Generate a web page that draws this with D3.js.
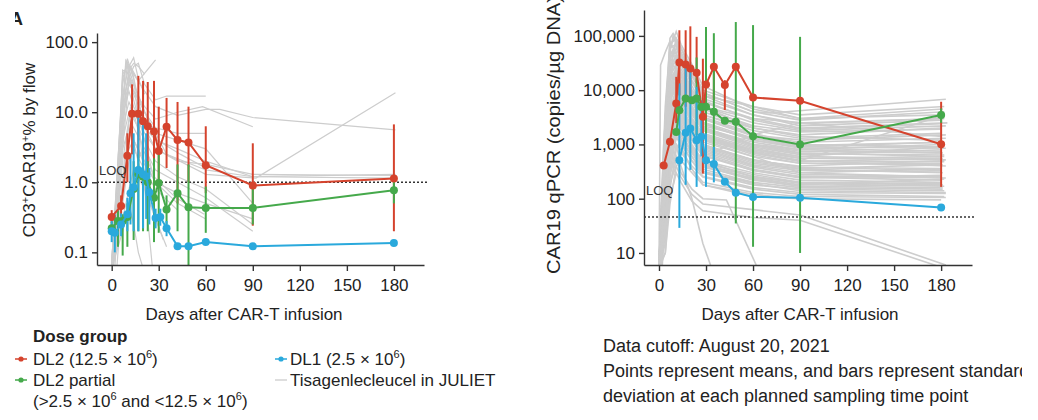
<!DOCTYPE html>
<html>
<head>
<meta charset="utf-8">
<script src="https://cdn.jsdelivr.net/npm/d3@7"></script>
<style>
body { margin: 0; background: #fff; }
svg text { font-family: "Liberation Sans", Arial, Helvetica, sans-serif; fill: #222; }
</style>
</head>
<body>
<script>
// shared ticks
const dayTicks = [0, 30, 60, 90, 120, 150, 180];
const flowTicks = [0.1, 1, 10, 100];
const pcrTicks = [10, 100, 1000, 10000, 100000];
const flowLOQ = 1.0;
const pcrLOQ = 46;

// CD3+CAR19+ % by flow: means and SD bars
const flowDL2Days = [0, 6, 10, 13, 17, 20, 23, 27, 30, 35, 42, 49, 60, 90, 180];
const flowDL2Mean = [0.32, 0.46, 2.4, 9.5, 9.5, 7.4, 6.3, 5.3, 2.8, 6.2, 4.0, 3.7, 1.75, 0.9, 1.13];
const flowDL2Lo   = [0.26, 0.33, 1.0, 2.5, 2.2, 1.6, 1.3, 1.1, 1.0, 1.6, 0.5, 1.0, 0.7, 0.24, 0.2];
const flowDL2Hi   = [0.4, 0.65, 5.0, 25, 33, 28, 27, 28, 12, 16, 14, 12, 6.3, 3.6, 6.7];

const flowPartDays = [0, 4, 7, 10, 14, 17, 20, 23, 27, 30, 35, 42, 49, 60, 90, 180];
const flowPartMean = [0.22, 0.28, 0.28, 0.32, 0.8, 1.3, 1.2, 1.0, 0.6, 0.98, 0.41, 0.7, 0.44, 0.43, 0.43, 0.77];
const flowPartLo   = [0.18, 0.12, 0.09, 0.12, 0.15, 0.2, 0.2, 0.2, 0.14, 0.19, 0.25, 0.2, 0.06, 0.19, 0.25, 0.5];
const flowPartHi   = [0.27, 0.4, 0.35, 0.5, 2, 2.5, 2.5, 2, 2.2, 2.6, 0.65, 1.8, 1.8, 0.87, 0.93, 1.1];

const flowDL1Days = [0, 2, 6, 10, 12, 14, 17, 20, 22, 24, 28, 31, 35, 42, 49, 60, 90, 180];
const flowDL1Mean = [0.2, 0.19, 0.25, 0.35, 0.7, 0.85, 1.5, 1.3, 1.22, 0.72, 0.31, 0.32, 0.22, 0.122, 0.122, 0.14, 0.122, 0.136];
const flowDL1Lo   = [0.14, 0.1, 0.17, 0.2, 0.25, 0.2, 0.2, 0.22, 0.3, 0.25, 0.22, 0.24, 0.17, null, null, null, null, null];
const flowDL1Hi   = [0.28, 0.35, 0.36, 0.6, 2.5, 5, 9, 7, 5, 1.6, 0.42, 0.42, 0.28, null, null, null, null, null];

// CAR19 qPCR copies/ug DNA: means and SD bars
const pcrDL2Days = [3, 7, 11, 13, 17, 20, 24, 28, 30, 35, 42, 49, 60, 90, 180];
const pcrDL2Mean = [410, 1120, 5700, 32400, 29700, 25100, 20900, 3230, 12700, 26900, 12400, 26900, 7330, 6350, 1010];
const pcrDL2Lo   = [null, null, 2470, 8000, 4950, 6550, 13500, 290, 5000, 6550, 4300, null, null, null, 165];
const pcrDL2Hi   = [null, null, 17600, 127000, 127000, 150000, 96000, 38000, 30000, 31000, 15300, null, null, null, 6120];

const pcrPartDays = [11, 13, 17, 21, 24, 27, 30, 35, 42, 49, 60, 90, 180];
const pcrPartMean = [1700, 4280, 7030, 6550, 7030, 4900, 4930, 3980, 2720, 2630, 1420, 1000, 3470];
const pcrPartLo   = [null, null, null, null, 1500, null, 297, 520, null, 35, 13, 10, 2500];
const pcrPartHi   = [null, null, null, null, 40000, null, 146000, 112000, null, 180000, 158000, 96000, 4600];

const pcrDL1Days = [13, 17, 20, 24, 27, 30, 35, 42, 49, 60, 90, 180];
const pcrDL1Mean = [513, 1640, 1970, 1200, 1380, 513, 434, 205, 129, 108, 104, 69];
const pcrDL1Lo   = [29, 180, 340, 165, 600, 165, 200, null, null, null, null, null];
const pcrDL1Hi   = [13300, 26900, 26900, 11500, 6500, 1600, 900, null, null, null, null, null];

// Tisagenlecleucel in JULIET, individual patients (day, value, day, value, ...)
const flowGrey = [
  [0,0.05, 6,5, 9,55, 13,40, 17,15, 21,6, 28,3, 60,1.3, 92,1.15, 181,19],
  [0,0.07, 7,12, 10,48, 14,35, 21,20, 28,12, 42,9, 60,11, 69,11, 90,8.4, 181,5.6],
  [1,0.06, 7,3, 11,30, 14,45, 17,50, 21,25, 28,15, 35,17, 60,17],
  [0,0.08, 4,1, 7,40, 11,35, 14,20, 21,12, 28,8, 42,10, 58,12, 90,6.2],
  [0,0.07, 7,25, 10,58, 14,30, 18,5, 22,0.5, 26,0.06],
  [2,0.06, 9,20, 12,45, 17,28, 28,56],
  [0,0.05, 7,6, 11,14, 14,10, 21,5, 28,3, 42,2, 60,1.8, 90,1.3, 181,1.25],
  [0,0.06, 7,9, 11,20, 14,12, 21,6, 28,4, 42,3, 60,2, 90,1.2, 181,1.15],
  [0,0.05, 7,4, 11,10, 14,8, 21,4, 28,2, 42,1.2, 60,0.8, 90,0.25],
  [1,0.07, 7,2, 11,8, 14,6, 21,3, 28,1.5, 42,1, 60,0.6, 90,0.2],
  [0,0.06, 7,15, 11,30, 14,18, 21,8, 28,5, 42,4, 60,3, 90,0.5],
  [0,0.05, 7,1, 11,3, 14,4, 21,2, 28,1, 42,0.5, 60,0.3],
  [0,0.07, 4,0.3, 7,8, 11,25, 14,20, 21,10, 28,6, 42,5, 60,5],
  [0,0.06, 7,0.5, 11,2, 14,3, 21,1.5, 28,0.8, 42,0.4],
  [0,0.05, 7,30, 10,50, 14,25, 21,10, 28,5, 35,2.5, 60,1.5, 90,1.2, 181,1.3],
  [1,0.06, 7,18, 11,45, 14,60, 17,30, 21,18],
  [0,0.08, 7,0.3, 11,0.8, 14,1.5, 21,0.8, 28,0.3, 35,0.12],
  [0,0.05, 7,3, 11,6, 14,4, 21,1.8, 28,1, 42,0.7, 60,0.5, 90,0.3],
  [0,0.06, 7,10, 11,40, 14,50, 17,45, 21,35],
  [0,0.07, 4,2, 7,35, 10,45, 14,15, 21,4, 28,0.9],
  [0,0.06, 7,0.2, 11,0.5, 14,0.25, 17,0.1, 21,0.05],
  [3,0.05, 8,1.5, 12,12, 15,8, 20,3, 27,1.2, 41,0.6, 59,0.35],
  [0,0.06, 5,0.8, 8,14, 12,30, 16,20, 22,9, 29,4, 44,2.5, 60,1.6],
  [0,0.05, 4,0.15, 8,2, 12,5, 15,3, 20,1, 26,0.4, 33,0.15]
];

const pcrGrey = [
  [0,8, 4,300, 7,20000, 11,90000, 14,60000, 21,20000, 28,9000, 60,4000, 71,3800, 183,6800],
  [0,6, 3,1000, 7,50000, 9,100000, 14,40000, 21,15000, 28,8000, 60,5000, 90,3000, 181,4500],
  [0,5, 1,29000, 4,50000, 7,80000, 14,30000, 21,10000, 28,5000, 60,3000, 92,2500, 182,3000],
  [0,5, 4,200, 7,5000, 11,30000, 14,20000, 21,8000, 28,4000, 60,2000, 90,1500, 180,2000],
  [1,5, 4,50, 8,2000, 11,10000, 15,15000, 21,6000, 27,3000, 58,1500, 91,1200, 183,1500],
  [0,6, 4,500, 7,10000, 9,20000, 14,8000, 21,3000, 28,1500, 60,800, 90,600, 180,900],
  [0,5, 3,100, 7,3000, 11,8000, 14,5000, 20,2000, 28,1000, 61,500, 89,400, 182,500],
  [0,7, 4,2000, 7,40000, 11,50000, 14,25000, 21,10000, 28,6000, 60,3000, 90,2000, 184,2500],
  [1,5, 4,30, 7,500, 11,3000, 14,4000, 21,2000, 28,1200, 60,600, 90,300, 180,250],
  [0,6, 4,150, 7,4000, 10,20000, 14,12000, 21,5000, 28,2500, 59,1200, 90,900, 181,1100],
  [0,5, 4,800, 7,15000, 11,25000, 14,15000, 21,5000, 28,2000, 60,1000, 90,700, 182,600],
  [0,6, 4,20, 7,300, 11,1500, 14,2000, 21,900, 28,500, 60,250, 90,200, 180,180],
  [2,5, 5,400, 8,8000, 11,12000, 15,6000, 22,2500, 29,1200, 62,700, 92,500, 183,400],
  [0,6, 4,60, 7,1500, 11,6000, 14,9000, 21,4000, 28,2000, 60,1000, 90,800, 180,700],
  [0,5, 4,3000, 7,60000, 11,120000, 14,70000, 21,30000, 28,12000, 60,4500, 90,3000, 181,3500],
  [0,7, 4,100, 7,2500, 11,5000, 14,3000, 21,1500, 28,700, 60,350, 90,250, 180,220],
  [0,5, 4,10, 7,150, 11,800, 14,1200, 21,600, 28,300, 60,180, 90,150, 182,140],
  [1,6, 4,500, 7,20000, 11,40000, 14,20000, 21,7000, 28,3500, 60,1800, 90,1300, 180,1600],
  [0,5, 4,1500, 7,30000, 11,60000, 14,35000, 21,12000, 28,5000, 60,2500, 90,1800, 183,2200],
  [0,6, 4,80, 7,1000, 11,4000, 14,2500, 21,1000, 28,500, 60,300, 90,220, 180,200],
  [0,5, 4,40, 7,700, 11,2500, 14,3500, 21,1800, 28,900, 60,450, 90,350, 181,300],
  [0,6, 4,250, 7,6000, 11,15000, 14,9000, 21,3500, 28,1800, 60,900, 90,650, 180,800],
  [0,5, 4,15, 7,200, 11,500, 14,700, 21,400, 28,250, 60,150, 90,120, 182,110],
  [0,6, 4,600, 7,12000, 11,20000, 14,10000, 21,4000, 28,2000, 60,1100, 90,800, 180,1000],
  [0,7, 4,1200, 7,25000, 11,35000, 14,15000, 21,6000, 28,3000, 60,1500, 90,1100, 183,1300],
  [1,5, 4,70, 7,1800, 11,7000, 14,5000, 21,2200, 28,1100, 60,600, 90,450, 180,420],
  [0,6, 4,30, 7,400, 11,2000, 14,1500, 21,700, 28,400, 60,220, 90,170, 181,160],
  [0,5, 4,200, 7,4000, 11,9000, 14,7000, 21,3000, 28,1500, 60,750, 90,550, 180,600],
  [0,6, 4,5000, 7,70000, 11,90000, 14,50000, 21,20000, 28,9000, 60,4000, 90,2800, 182,4000],
  [0,5, 4,300, 7,7000, 11,10000, 14,4000, 21,1500, 28,800, 60,400, 90,300, 180,350],
  [0,6, 4,20, 7,250, 11,1000, 14,800, 21,350, 28,200, 60,130, 90,110, 183,105],
  [0,5, 4,900, 7,18000, 11,30000, 14,18000, 21,7000, 28,3500, 60,2000, 90,1400, 180,1200],
  [0,6, 4,120, 7,3500, 11,12000, 14,8000, 21,3000, 28,1600, 60,850, 90,600, 181,550],
  [0,5, 4,50, 7,900, 11,3500, 14,2000, 21,900, 28,450, 60,280, 90,200, 180,190],
  [0,6, 4,2500, 7,45000, 11,70000, 14,40000, 21,15000, 28,7000, 60,3500, 90,2400, 182,3000],
  [0,5, 4,30, 7,300, 11,600, 14,300, 21,150, 28,100, 43,95, 62,6],
  [0,6, 4,40, 7,200, 11,400, 14,250, 21,120, 28,80, 90,50, 183,6],
  [0,5, 4,20, 7,100, 11,300, 14,200, 21,90, 28,60, 60,45, 90,40, 184,5],
  [0,6, 4,100, 7,1500, 11,1000, 14,400, 21,100, 28,15, 35,4],
  [0,6, 4,80, 7,800, 11,1500, 14,900, 21,350, 28,180, 60,110, 90,100, 180,95],
  [0,5, 4,400, 7,9000, 11,25000, 14,15000, 21,6500, 28,3200, 60,1600, 90,1000, 181,900],
  [0,6, 4,800, 7,20000, 11,15000, 14,7000, 21,2500, 28,1300, 60,650, 90,450, 180,450],
  [0,5, 4,60, 7,1200, 11,4500, 14,6000, 21,2800, 28,1400, 60,700, 90,500, 182,480],
  [0,6, 4,1500, 7,35000, 11,80000, 14,45000, 21,18000, 28,8000, 60,3500, 90,2200, 180,2800],
  [0,5, 4,200, 7,5000, 11,7000, 14,3500, 21,1300, 28,650, 60,330, 90,260, 183,240],
  [0,6, 4,30, 7,600, 11,2500, 14,3000, 21,1500, 28,750, 60,380, 90,280, 180,260],
  [0,5, 4,700, 7,14000, 11,18000, 14,12000, 21,4500, 28,2200, 60,1300, 90,950, 181,1100],
  [0,6, 4,100, 7,2000, 11,5500, 14,4500, 21,2000, 28,1000, 60,520, 90,380, 180,330],
  [0,5, 4,3000, 7,90000, 9,110000, 14,60000, 21,25000, 28,10000, 60,5000, 90,3500, 182,5000],
  [0,6, 4,10, 7,80, 11,400, 14,500, 21,300, 28,180, 60,120, 90,100],
  [0,5, 4,150, 7,2800, 11,6500, 14,4000, 21,1700, 28,850, 60,420, 90,330, 180,310],
  [0,6, 4,50, 7,1000, 11,2000, 14,1300, 21,600, 28,320, 60,190, 90,140, 183,130],
  [0,5, 4,2000, 7,25000, 11,45000, 14,22000, 21,9000, 28,4500, 60,2200, 90,1700, 180,1900],
  [0,6, 4,400, 7,8000, 11,16000, 14,11000, 21,4200, 28,2100, 60,1000, 90,750, 181,700],
  [0,5, 4,200, 7,3000, 11,6000, 14,2500, 21,800, 28,300],
  [0,6, 4,2000, 7,50000, 11,40000, 14,20000, 21,9000, 28,5000, 60,2000],
  [0,5, 4,100, 7,1000, 9,3000, 11,2000, 14,1000, 21,500, 28,300, 60,200],
  [0,6, 4,500, 7,10000, 11,15000, 14,8000, 21,3000, 28,1500, 60,700, 90,500, 182,3500],
  [0,5, 4,100, 7,2000, 11,5000, 14,3000, 21,1200, 28,600, 60,1500, 90,2500, 180,1400],
  [0,5, 4,90, 7,1800, 11,3500, 14,2200, 21,900, 28,420, 60,260, 90,190, 182,170],
  [0,6, 4,300, 7,5000, 11,9000, 14,5000, 21,1800, 28,900, 60,520, 90,380, 180,360],
  [1,5, 4,40, 7,600, 11,1800, 14,1500, 21,700, 28,350, 60,200, 90,160, 181,150],
  [0,6, 4,700, 7,9000, 11,13000, 14,7000, 21,2800, 28,1400, 60,800, 90,560, 183,520],
  [0,5, 4,150, 7,2500, 11,8000, 14,6000, 21,2500, 28,1300, 60,700, 90,480, 180,560],
  [0,6, 4,60, 7,700, 11,2200, 14,1600, 21,750, 28,380, 60,240, 90,180, 182,230],
  [0,5, 4,250, 7,3500, 11,7000, 14,4500, 21,1900, 28,950, 60,480, 90,360, 181,420],
  [0,6, 4,1000, 7,16000, 11,22000, 14,12000, 21,4800, 28,2400, 60,1200, 90,850, 180,750],
  [0,5, 4,35, 7,450, 11,1300, 14,1100, 21,500, 28,260, 60,160, 90,130, 183,125],
  [0,6, 4,180, 7,2200, 11,4200, 14,2800, 21,1200, 28,620, 60,330, 90,240, 180,270],
  [0,5, 4,500, 7,7000, 11,14000, 14,9500, 21,3800, 28,1900, 60,950, 90,680, 182,640],
  [0,6, 4,90, 7,1300, 11,3000, 14,2000, 21,850, 28,430, 60,230, 90,170, 181,180],
  [0,7, 2,20, 4,2500, 7,60000, 11,70000, 14,35000, 21,14000, 28,6500, 60,2800, 90,1900, 180,2400],
  [0,5, 2,15, 4,600, 7,15000, 9,30000, 14,14000, 21,5000, 28,2600, 60,1300, 90,900, 183,850]
];

const red = "#d5432d", green = "#45a94b", blue = "#2aa9dc", grey = "#cdcdcd", ink = "#333";

const svg = d3.select("body").append("svg").attr("width", 1038).attr("height", 420);

const toPairs = a => d3.range(0, a.length, 2).map(i => [a[i], a[i + 1]]);
const rows = (days, mean, lo, hi) => days.map((d, i) => ({day: d, mean: mean[i], lo: lo[i], hi: hi[i]}));

function drawPanel(p) {
  const x = d3.scaleLinear().domain(p.xDomain).range(p.xRange);
  const y = d3.scaleLog().domain(p.yDomain).range([265, p.yTop]);

  svg.append("clipPath").attr("id", p.id)
     .append("rect")
     .attr("x", p.xRange[0]).attr("y", 0)
     .attr("width", p.xRange[1] - p.xRange[0] + 4).attr("height", 265);

  const plot = svg.append("g").attr("clip-path", `url(#${p.id})`);

  const line = d3.line().x(d => x(d[0])).y(d => y(d[1]));

  plot.append("g").selectAll("path")
      .data(p.grey.map(toPairs))
      .join("path")
      .attr("fill", "none")
      .attr("stroke", grey)
      .attr("stroke-width", p.greyWidth)
      .attr("d", line);

  // LOQ
  plot.append("line")
      .attr("x1", p.xRange[0]).attr("x2", p.xRange[1] + 3)
      .attr("y1", y(p.loq)).attr("y2", y(p.loq))
      .attr("stroke", ink).attr("stroke-width", 1.4)
      .attr("stroke-dasharray", "2,2");

  // SD bars
  p.series.forEach(s => {
    plot.append("g").selectAll("line")
        .data(s.rows.filter(r => r.lo != null))
        .join("line")
        .attr("x1", r => x(r.day)).attr("x2", r => x(r.day))
        .attr("y1", r => y(r.lo)).attr("y2", r => y(r.hi))
        .attr("stroke", s.color).attr("stroke-width", 2);
  });

  const meanLine = d3.line().x(r => x(r.day)).y(r => y(r.mean));
  p.series.forEach(s => {
    plot.append("path")
        .attr("fill", "none")
        .attr("stroke", s.color)
        .attr("stroke-width", 2)
        .attr("d", meanLine(s.rows));
    plot.append("g").selectAll("circle")
        .data(s.rows)
        .join("circle")
        .attr("cx", r => x(r.day)).attr("cy", r => y(r.mean))
        .attr("r", 4)
        .attr("fill", s.color);
  });

  svg.append("text")
     .attr("x", p.xRange[0] + 2).attr("y", p.loqLabelY)
     .attr("font-size", 13).style("fill", ink)
     .text("LOQ");

  // axes
  const yAxis = svg.append("g")
      .attr("transform", `translate(${p.xRange[0]},0)`)
      .call(d3.axisLeft(y).tickValues(p.yTicks).tickFormat(p.yFormat).tickSize(5).tickPadding(4).tickSizeOuter(0));
  const xAxis = svg.append("g")
      .attr("transform", "translate(0,265)")
      .call(d3.axisBottom(x).tickValues(dayTicks).tickSize(6).tickPadding(8).tickSizeOuter(0));
  [xAxis, yAxis].forEach(a => {
    a.selectAll("path, line").attr("stroke", ink).attr("stroke-width", 1.4);
    a.selectAll("text").attr("font-size", 17).style("fill", "#222")
     .style("font-family", "'Liberation Sans', Arial, sans-serif");
  });

  svg.append("text")
     .attr("x", p.titleX).attr("y", 320)
     .attr("text-anchor", "middle")
     .attr("font-size", 17)
     .text("Days after CAR-T infusion");
}

drawPanel({
  id: "clipFlow",
  xDomain: [-9.37, 199.2], xRange: [97, 424],
  yDomain: [0.066, 135], yTop: 33,
  yTicks: flowTicks, yFormat: d3.format(".1f"),
  loq: flowLOQ, loqLabelY: 175,
  grey: flowGrey, greyWidth: 1.2,
  titleX: 244,
  series: [
    {color: red, rows: rows(flowDL2Days, flowDL2Mean, flowDL2Lo, flowDL2Hi)},
    {color: green, rows: rows(flowPartDays, flowPartMean, flowPartLo, flowPartHi)},
    {color: blue, rows: rows(flowDL1Days, flowDL1Mean, flowDL1Lo, flowDL1Hi)}
  ]
});

drawPanel({
  id: "clipPcr",
  xDomain: [-9.57, 199.7], xRange: [644, 972],
  yDomain: [6, 300000], yTop: 10,
  yTicks: pcrTicks, yFormat: d3.format(","),
  loq: pcrLOQ, loqLabelY: 195,
  grey: pcrGrey, greyWidth: 1.6,
  titleX: 800,
  series: [
    {color: red, rows: rows(pcrDL2Days, pcrDL2Mean, pcrDL2Lo, pcrDL2Hi)},
    {color: green, rows: rows(pcrPartDays, pcrPartMean, pcrPartLo, pcrPartHi)},
    {color: blue, rows: rows(pcrDL1Days, pcrDL1Mean, pcrDL1Lo, pcrDL1Hi)}
  ]
});

// y titles
const flowTitle = svg.append("text")
    .attr("transform", "translate(35,150) rotate(-90)")
    .attr("text-anchor", "middle")
    .attr("font-size", 17);
flowTitle.append("tspan").text("CD3");
flowTitle.append("tspan").attr("dy", -6).attr("font-size", 11).text("+");
flowTitle.append("tspan").attr("dy", 6).text("CAR19");
flowTitle.append("tspan").attr("dy", -6).attr("font-size", 11).text("+");
flowTitle.append("tspan").attr("dy", 6).text("% by flow");

svg.append("text")
   .attr("transform", "translate(559.5,274) rotate(-90)")
   .attr("font-size", 18)
   .attr("textLength", 278).attr("lengthAdjust", "spacingAndGlyphs")
   .text("CAR19 qPCR (copies/\u00b5g DNA)");

// panel letter, cut off at the left edge as in the source figure
svg.append("clipPath").attr("id", "clipA")
   .append("rect").attr("x", 15).attr("y", 0).attr("width", 20).attr("height", 30);
svg.append("text")
   .attr("clip-path", "url(#clipA)")
   .attr("x", 10).attr("y", 25)
   .attr("font-size", 18).attr("font-weight", "bold")
   .text("A");

// legend
const legend = svg.append("g");
legend.append("text").attr("x", 33).attr("y", 342)
      .attr("font-size", 17).attr("font-weight", "bold").text("Dose group");

const legendItems = [
  {x: 15, tx: 33, y: 365, color: red, parts: ["DL2 (12.5 \u00d7 10", "6", ")"]},
  {x: 15, tx: 33, y: 386, color: green, parts: ["DL2 partial"]},
  {x: 275, tx: 290, y: 365, color: blue, parts: ["DL1 (2.5 \u00d7 10", "6", ")"]},
  {x: 275, tx: 290, y: 386, color: grey, parts: ["Tisagenlecleucel in JULIET"], plain: true}
];
legendItems.forEach(it => {
  legend.append("line")
        .attr("x1", it.x).attr("x2", it.x + 12)
        .attr("y1", it.y - 6).attr("y2", it.y - 6)
        .attr("stroke", it.color).attr("stroke-width", it.plain ? 1.3 : 1.5);
  if (!it.plain) {
    legend.append("circle").attr("cx", it.x + 6).attr("cy", it.y - 6).attr("r", 2.6).attr("fill", it.color);
  }
  const t = legend.append("text").attr("x", it.tx).attr("y", it.y).attr("font-size", 17);
  t.append("tspan").text(it.parts[0]);
  if (it.parts.length > 1) {
    t.append("tspan").attr("dy", -7).attr("font-size", 11).text(it.parts[1]);
    t.append("tspan").attr("dy", 7).text(it.parts[2]);
  }
});
const partRange = legend.append("text").attr("x", 33).attr("y", 407).attr("font-size", 17);
partRange.append("tspan").text("(>2.5 \u00d7 10");
partRange.append("tspan").attr("dy", -7).attr("font-size", 11).text("6");
partRange.append("tspan").attr("dy", 7).text(" and <12.5 \u00d7 10");
partRange.append("tspan").attr("dy", -7).attr("font-size", 11).text("6");
partRange.append("tspan").attr("dy", 7).text(")");

// footnote, cut at the right edge as in the source figure
const noteLines = [
  "Data cutoff: August 20, 2021",
  "Points represent means, and bars represent standard",
  "deviation at each planned sampling time point"
];
svg.append("clipPath").attr("id", "clipNote")
   .append("rect").attr("x", 590).attr("y", 320).attr("width", 432).attr("height", 100);
svg.append("g").attr("clip-path", "url(#clipNote)")
   .selectAll("text")
   .data(noteLines)
   .join("text")
   .attr("x", 603).attr("y", (d, i) => 352 + i * 25)
   .attr("font-size", 18)
   .text(d => d);
</script>
</body>
</html>
